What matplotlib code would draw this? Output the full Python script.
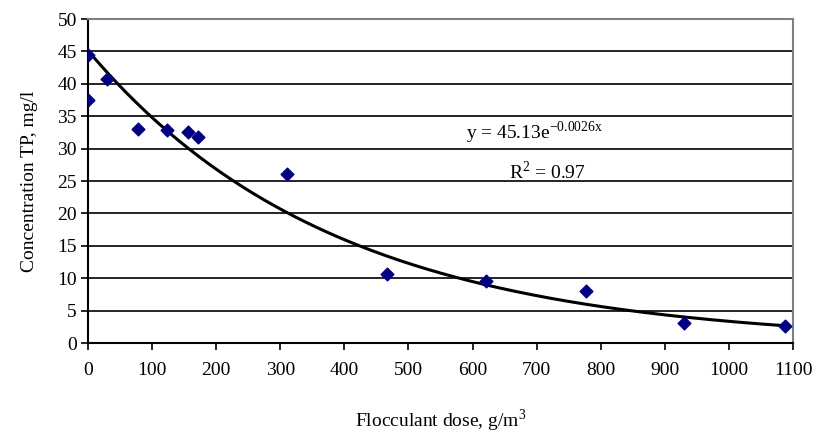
import matplotlib
matplotlib.use("Agg")
import matplotlib.pyplot as plt
import numpy as np

plt.rcParams["font.family"] = ["Liberation Serif", "DejaVu Serif"]
plt.rcParams["mathtext.fontset"] = "custom"
plt.rcParams["mathtext.rm"] = "Liberation Serif"
plt.rcParams["axes.unicode_minus"] = False

# measured points
dose = [0, 0, 30, 78, 123, 156, 172, 310, 466, 621, 777, 930, 1087]
conc = [44.4, 37.5, 40.7, 33.1, 32.9, 32.6, 31.8, 26.1, 10.7, 9.6, 8.1, 3.1, 2.6]

# exponential trendline  y = A * exp(B x)
A = 45.13
B = -0.0026

xticks = list(range(0, 1101, 100))
yticks = list(range(0, 51, 5))

fig = plt.figure(figsize=(8.17, 4.37), dpi=100)
ax = fig.add_axes([0.1077, 0.215, 0.8629, 0.7415])

for y in yticks[1:-1]:
    ax.axhline(y, color="black", linewidth=1.2, zorder=1)

xs = np.linspace(0, max(dose), 200)
ax.plot(xs, A * np.exp(B * xs), color="black", linewidth=2.2, zorder=2)
ax.scatter(dose, conc, marker="D", s=42, color="#000080", zorder=3)

ax.set_xlim(0, 1100)
ax.set_ylim(0, 50)
ax.set_xticks(xticks)
ax.set_yticks(yticks)
ax.tick_params(labelsize=14, direction="out", length=5, width=1.2, pad=9)
ax.tick_params(axis="y", pad=3)

for side in ("left", "bottom"):
    ax.spines[side].set_color("black")
    ax.spines[side].set_linewidth(1.5)
ax.spines["top"].set_color("#808080")
ax.spines["top"].set_linewidth(1.5)
ax.spines["right"].set_color("#808080")
ax.spines["right"].set_linewidth(1.5)

ax.set_xlabel("Flocculant dose, g/m$^3$", fontsize=14, labelpad=20)
ax.set_ylabel("Concentration TP, mg/l", fontsize=14, labelpad=14)

ax.text(696, 32.4, r"y = 45.13e$^{\mathregular{-0.0026x}}$", fontsize=14, ha="center", va="center")
ax.text(717, 26.4, "R$^2$ = 0.97", fontsize=14, ha="center", va="center")

fig.savefig("out.png", dpi=100)
